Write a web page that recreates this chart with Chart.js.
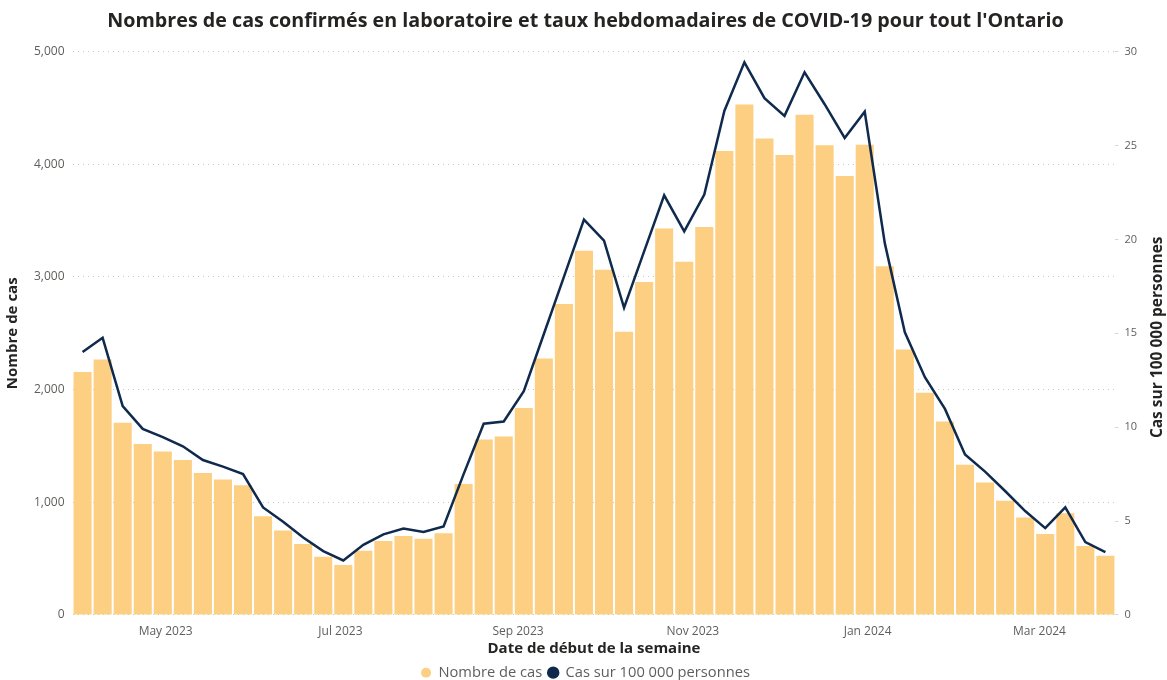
<!DOCTYPE html>
<html>
<head>
<meta charset="utf-8">
<script src="https://cdn.jsdelivr.net/npm/chart.js@4/dist/chart.umd.min.js"></script>
<style>
  body { margin: 0; background: #fff; }
  #wrap { width: 1167px; height: 680px; }
</style>
</head>
<body>
<div id="wrap"><canvas id="myChart" width="1167" height="680"></canvas></div>
<script>
// semaine (date de début)
const weeks = [
  '2023-04-02','2023-04-09','2023-04-16','2023-04-23','2023-04-30',
  '2023-05-07','2023-05-14','2023-05-21','2023-05-28',
  '2023-06-04','2023-06-11','2023-06-18','2023-06-25',
  '2023-07-02','2023-07-09','2023-07-16','2023-07-23','2023-07-30',
  '2023-08-06','2023-08-13','2023-08-20','2023-08-27',
  '2023-09-03','2023-09-10','2023-09-17','2023-09-24',
  '2023-10-01','2023-10-08','2023-10-15','2023-10-22','2023-10-29',
  '2023-11-05','2023-11-12','2023-11-19','2023-11-26',
  '2023-12-03','2023-12-10','2023-12-17','2023-12-24','2023-12-31',
  '2024-01-07','2024-01-14','2024-01-21','2024-01-28',
  '2024-02-04','2024-02-11','2024-02-18','2024-02-25',
  '2024-03-03','2024-03-10','2024-03-17','2024-03-24'
];

const cases = [
  2157, 2267, 1705, 1518, 1450, 1375, 1259, 1203, 1150, 876,
  749, 630, 517, 443, 570, 657, 701, 677, 725, 1161,
  1557, 1584, 1836, 2276, 2760, 3233, 3063, 2513, 2956, 3429,
  3135, 3443, 4118, 4530, 4228, 4082, 4439, 4168, 3895, 4174,
  3094, 2357, 1973, 1717, 1333, 1175, 1013, 864, 719, 903,
  612, 525
];

const rates = [
  14.0, 14.76, 11.12, 9.91, 9.47, 8.98, 8.25, 7.9, 7.5, 5.72,
  4.96, 4.12, 3.4, 2.9, 3.73, 4.29, 4.6, 4.42, 4.71, 7.5,
  10.18, 10.3, 11.91, 14.96, 18.0, 21.05, 19.93, 16.36, 19.36, 22.35,
  20.43, 22.39, 26.84, 29.43, 27.52, 26.58, 28.9, 27.2, 25.4, 26.8,
  19.8, 15.05, 12.66, 10.97, 8.54, 7.63, 6.6, 5.53, 4.62, 5.73,
  3.88, 3.34
];

const monthTicks = ['2023-05-01','2023-07-01','2023-09-01','2023-11-01','2024-01-01','2024-03-01'];
const monthLabels = ['May 2023','Jul 2023','Sep 2023','Nov 2023','Jan 2024','Mar 2024'];

const FONT = "'Open Sans', 'Noto Sans', sans-serif";
const TICK = '#605E5C';
const DARK = '#252423';

const dayNum = (s) => Date.parse(s + 'T00:00:00Z') / 86400000;

// titre de l'axe de droite, lu de bas en haut
const rightTitle = {
  id: 'rightTitle',
  afterDraw(chart) {
    const c = chart.ctx;
    const a = chart.chartArea;
    c.save();
    c.translate(1158, (a.top + a.bottom) / 2 + 4);
    c.rotate(-Math.PI / 2);
    c.font = "bold 15.5px " + FONT;
    c.fillStyle = DARK;
    c.textAlign = 'center';
    c.textBaseline = 'middle';
    c.fillText('Cas sur 100 000 personnes', 0, 0);
    c.restore();
  }
};

Chart.defaults.font.family = FONT;
Chart.defaults.color = TICK;

const ctx = document.getElementById('myChart');

new Chart(ctx, {
  type: 'bar',
  data: {
    labels: weeks,
    datasets: [
      {
        type: 'bar',
        label: 'Nombre de cas',
        data: cases,
        backgroundColor: '#FCCF82',
        barPercentage: 0.9,
        categoryPercentage: 1.0,
        yAxisID: 'y',
        order: 2
      },
      {
        type: 'line',
        label: 'Cas sur 100 000 personnes',
        data: rates,
        borderColor: '#0F2A4D',
        backgroundColor: '#0F2A4D',
        borderWidth: 2.5,
        pointRadius: 0,
        tension: 0,
        yAxisID: 'y1',
        order: 1
      }
    ]
  },
  options: {
    responsive: false,
    animation: false,
    layout: { padding: { left: 4, right: 0, top: 0, bottom: -10 } },
    plugins: {
      title: {
        display: true,
        text: "Nombres de cas confirmés en laboratoire et taux hebdomadaires de COVID-19 pour tout l'Ontario",
        color: DARK,
        font: { size: 19.7, weight: 'bold' },
        padding: { top: 10, bottom: 18 }
      },
      legend: {
        position: 'bottom',
        labels: {
          usePointStyle: true,
          pointStyle: 'circle',
          pointStyleWidth: 10,
          boxHeight: 7,
          padding: 6,
          color: TICK,
          font: { size: 14.7 },
          sort: (a, b) => a.datasetIndex - b.datasetIndex
        }
      },
      tooltip: { enabled: false }
    },
    scales: {
      x: {
        display: false,
        offset: true
      },
      xDates: {
        type: 'linear',
        position: 'bottom',
        offset: false,
        bounds: 'data',
        min: dayNum(weeks[0]) - 3.5,
        max: dayNum(weeks[weeks.length - 1]) + 3.5,
        afterBuildTicks: (scale) => {
          scale.ticks = monthTicks.map((d) => ({ value: dayNum(d) }));
        },
        ticks: {
          autoSkip: false,
          maxRotation: 0,
          padding: 1,
          font: { size: 12 },
          callback: (v, i) => monthLabels[i]
        },
        grid: { display: false, offset: false },
        border: { display: false },
        title: {
          display: true,
          text: 'Date de début de la semaine',
          color: DARK,
          font: { size: 15, weight: 'bold' },
          padding: { top: 0, bottom: 2 }
        }
      },
      y: {
        position: 'left',
        min: 0,
        max: 5000,
        ticks: {
          stepSize: 1000,
          padding: 8,
          font: { size: 12 },
          callback: (v) => v.toLocaleString('en-US')
        },
        grid: { color: '#C8C6C4', drawTicks: false },
        border: { display: false, dash: [1, 4] },
        title: {
          display: true,
          text: 'Nombre de cas',
          color: DARK,
          font: { size: 15, weight: 'bold' },
          padding: { top: 0, bottom: 4 }
        }
      },
      y1: {
        position: 'right',
        min: 0,
        max: 30,
        afterFit: (scale) => { scale.width += 24; },
        ticks: {
          stepSize: 5,
          padding: 6,
          font: { size: 11 }
        },
        grid: { drawOnChartArea: false, color: '#D8D6D4', tickLength: 3 },
        border: { display: false }
      }
    }
  },
  plugins: [rightTitle]
});
</script>
</body>
</html>
